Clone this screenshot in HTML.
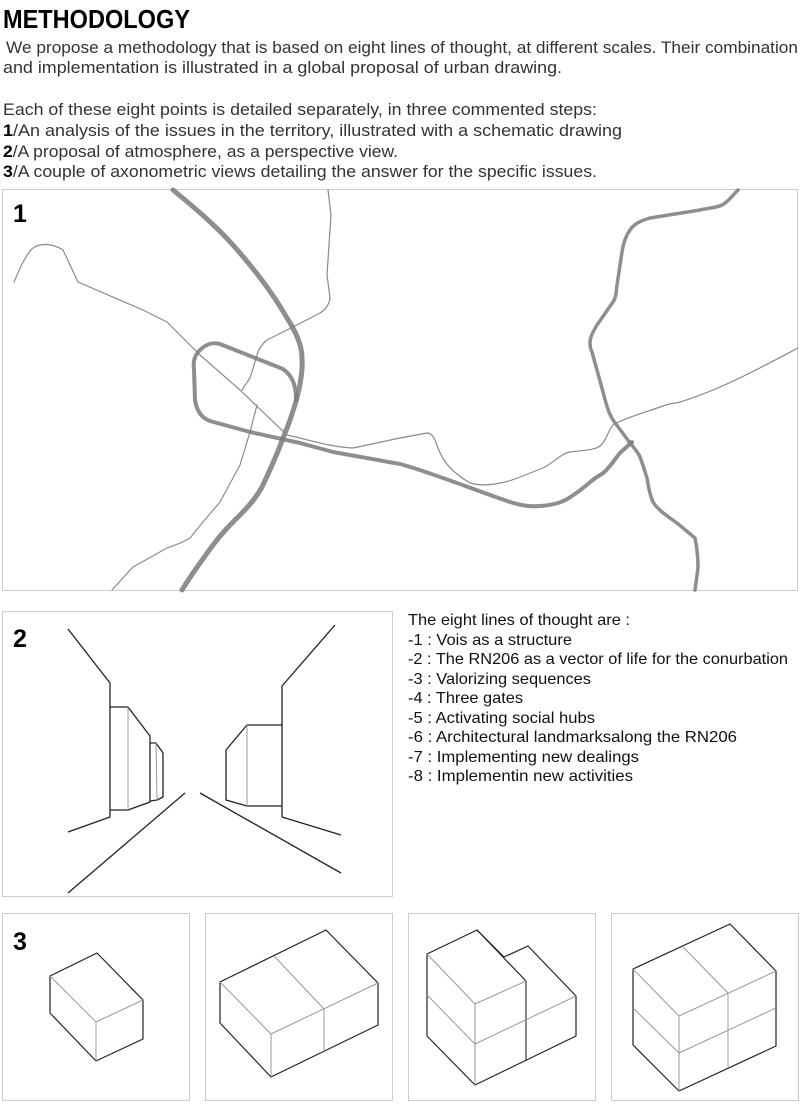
<!DOCTYPE html>
<html><head><meta charset="utf-8"><style>
html,body{margin:0;padding:0;background:#fff;}
svg{display:block;}
</style></head><body>
<svg width="800" height="1105" viewBox="0 0 800 1105" xmlns="http://www.w3.org/2000/svg" font-family="Liberation Sans, sans-serif">
<!-- header -->
<text x="3" y="28" font-size="26" font-weight="bold" fill="#000" textLength="187" lengthAdjust="spacingAndGlyphs">METHODOLOGY</text>
<g font-size="17" fill="#333">
<text x="6" y="53" textLength="792" lengthAdjust="spacingAndGlyphs">We propose a methodology that is based on eight lines of thought, at different scales. Their combination</text>
<text x="3" y="73" textLength="559" lengthAdjust="spacingAndGlyphs">and implementation is illustrated in a global proposal of urban drawing.</text>
<text x="3" y="115" textLength="594" lengthAdjust="spacingAndGlyphs">Each of these eight points is detailed separately, in three commented steps:</text>
<text x="3" y="136" textLength="619" lengthAdjust="spacingAndGlyphs"><tspan fill="#000" font-weight="bold">1</tspan>/An analysis of the issues in the territory, illustrated with a schematic drawing</text>
<text x="3" y="157" textLength="395" lengthAdjust="spacingAndGlyphs"><tspan fill="#000" font-weight="bold">2</tspan>/A proposal of atmosphere, as a perspective view.</text>
<text x="3" y="177" textLength="594" lengthAdjust="spacingAndGlyphs"><tspan fill="#000" font-weight="bold">3</tspan>/A couple of axonometric views detailing the answer for the specific issues.</text>
</g>

<!-- frame 1 map -->
<rect x="2.5" y="189.5" width="795" height="401" fill="none" stroke="#ccc" stroke-width="1"/>
<text x="13" y="222" font-size="25" font-weight="bold">1</text>
<g fill="none" stroke-linecap="round" stroke-linejoin="round">
<path d="M14,282 C20,268 26,254 33,248 C40,243 52,243 63,250 L78,282 L143,310 L167,322 L200,355 L240,390 L287,435 C310,440 330,447 353,448 L400,438 L427,433 C431,433 433,436 435,440 C440,455 445,468 470,483 C480,486 492,485 500,483 C508,482 512,480 520,477 L543,468 C555,462 560,454 570,452 C585,450 595,450 600,446 C607,440 608,430 613,425 C620,420 640,414 660,407 C668,404 672,403 677,403 C720,390 760,368 798,348" stroke="#8a8a8a" stroke-width="1.2"/>
<path d="M328,190 L331,215 L327,275 L330,298 C329,305 325,310 320,313 L293,327 L267,340 C262,344 260,348 258,352 L250,378 L242,390" stroke="#8a8a8a" stroke-width="1.2"/>
<path d="M257,405 L250,432 L240,465 L220,502 L203,522 L190,538 C180,544 175,545 167,548 L133,567 L112,590" stroke="#8a8a8a" stroke-width="1.2"/>
<path d="M296,400 C296,388 294,377 283,369 L220,344 C212,342 206,344 200,350 C194,356 193,362 194,370 L195,400 C197,412 202,418 210,421 L250,432 L300,443 L333,452 L400,464 C430,472 480,492 510,502 C520,505 528,507 540,506 C553,505 562,503 572,496 C586,487 593,478 602,474 C610,468 614,460 620,453 L632,442" stroke="#7a7a7a" stroke-opacity="0.85" stroke-width="4"/>
<path d="M173,190 C195,208 215,225 233,245 C255,270 272,292 287,318 C296,332 302,345 302,358 C303,372 300,386 297,398 C293,412 289,424 283,438 C277,455 270,470 263,485 C257,497 249,506 240,515 C230,525 222,533 213,545 C202,560 191,575 182,590" stroke="#7a7a7a" stroke-opacity="0.85" stroke-width="5"/>
<path d="M738,190 C732,196 728,202 722,205 C716,208 708,208 700,210 L650,218 C640,221 634,224 630,230 C625,237 623,245 622,252 L617,285 C616,293 616,298 613,302 L597,325 C593,332 590,337 590,343 C590,347 591,350 592,352 L603,392 C606,403 608,412 613,420 L630,443 C635,449 638,452 640,457 C643,465 645,472 647,478 C649,490 650,495 653,502 C658,510 667,516 677,523 L695,538 C697,548 698,558 698,568 L695,590" stroke="#7a7a7a" stroke-opacity="0.85" stroke-width="3.5"/>
</g>

<!-- frame 2 perspective -->
<rect x="2.5" y="611.5" width="390" height="285" fill="none" stroke="#ccc" stroke-width="1"/>
<text x="13" y="647" font-size="25" font-weight="bold">2</text>
<g fill="none" stroke="#222" stroke-width="1.3" stroke-linejoin="round">
<polyline points="68,629 110,683 110,817 68,832"/>
<polyline points="110,707 128,707 150,736 150,802 128,810 110,810"/>
<polyline points="150,743 156,743 163,753 163,797 157,800 150,801"/>
<line x1="68" y1="893" x2="185" y2="793"/>
<line x1="200" y1="793" x2="341" y2="873"/>
<polyline points="335,625 282,686 282,817 341,835"/>
<polyline points="282,725 247,725 226,750 226,800 247,806 282,806"/>
</g>
<g stroke="#999" stroke-width="1">
<line x1="128" y1="707" x2="128" y2="810"/>
<line x1="156" y1="743" x2="157" y2="800"/>
<line x1="247" y1="725" x2="247" y2="806"/>
</g>

<!-- list -->
<g font-size="16" fill="#111">
<text x="408" y="625" textLength="222" lengthAdjust="spacingAndGlyphs">The eight lines of thought are :</text>
<text x="408" y="645" textLength="164" lengthAdjust="spacingAndGlyphs">-1 : Vois as a structure</text>
<text x="408" y="664" textLength="380" lengthAdjust="spacingAndGlyphs">-2 : The RN206 as a vector of life for the conurbation</text>
<text x="408" y="684" textLength="183" lengthAdjust="spacingAndGlyphs">-3 : Valorizing sequences</text>
<text x="408" y="703" textLength="115" lengthAdjust="spacingAndGlyphs">-4 : Three gates</text>
<text x="408" y="723" textLength="187" lengthAdjust="spacingAndGlyphs">-5 : Activating social hubs</text>
<text x="408" y="742" textLength="329" lengthAdjust="spacingAndGlyphs">-6 : Architectural landmarksalong the RN206</text>
<text x="408" y="762" textLength="231" lengthAdjust="spacingAndGlyphs">-7 : Implementing new dealings</text>
<text x="408" y="781" textLength="225" lengthAdjust="spacingAndGlyphs">-8 : Implementin new activities</text>
</g>

<!-- frame 3 boxes -->
<g fill="none" stroke="#ccc" stroke-width="1">
<rect x="2.5" y="913.5" width="187" height="187"/>
<rect x="205.5" y="913.5" width="187" height="187"/>
<rect x="408.5" y="913.5" width="187" height="187"/>
<rect x="611.5" y="913.5" width="187" height="187"/>
</g>
<text x="13" y="950" font-size="25" font-weight="bold">3</text>
<g fill="none" stroke-linejoin="round">
<polygon points="97,953 50,976 50,1013 96,1061 143,1039 143,1000" stroke="#222" stroke-width="1.2"/>
<polyline points="50,976 96,1022 143,1000" stroke="#999" stroke-width="1"/>
<line x1="96" y1="1022" x2="96" y2="1061" stroke="#999"/>
<polygon points="326,930 220,982 220,1023 271,1077 378,1025 378,983" stroke="#222" stroke-width="1.2"/>
<polyline points="220,982 271,1034 378,983" stroke="#999"/>
<line x1="271" y1="1034" x2="271" y2="1077" stroke="#999"/>
<polyline points="274,956 324,1009 324,1050" stroke="#999"/>
<!-- cube 3 -->
<polygon points="477,930 427,954 427,1036 475,1085 576,1036 576,996 528,946 504,957" stroke="#222" stroke-width="1.2"/>
<line x1="477" y1="930" x2="526" y2="981" stroke="#222" stroke-width="1.2"/>
<line x1="526" y1="981" x2="526" y2="1061" stroke="#222" stroke-width="1.1"/>
<polyline points="427,954 475,1004 526,981" stroke="#999"/>
<line x1="475" y1="1004" x2="475" y2="1085" stroke="#999"/>
<polyline points="427,995 475,1044 576,996" stroke="#999"/>
<!-- cube 4 -->
<polygon points="730,924 633,969 633,1045 679,1091 776,1046 776,971" stroke="#222" stroke-width="1.2"/>
<polyline points="633,969 679,1016 776,971" stroke="#999"/>
<line x1="679" y1="1016" x2="679" y2="1091" stroke="#999"/>
<polyline points="683,947 728,993 728,1068" stroke="#999"/>
<polyline points="633,1008 679,1053 776,1008" stroke="#999"/>
</g>
</svg>
</body></html>
